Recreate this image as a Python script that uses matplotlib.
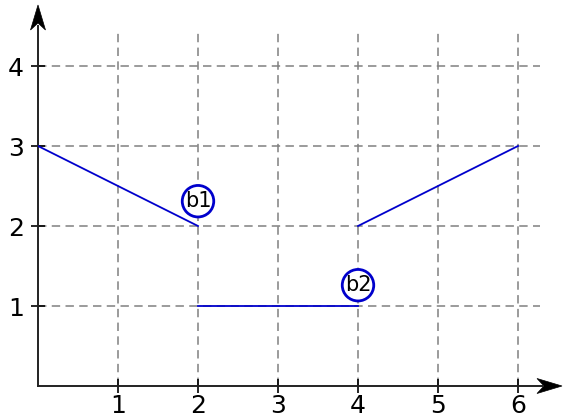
import matplotlib
matplotlib.use("Agg")
import matplotlib.pyplot as plt
from matplotlib.patches import Polygon
from matplotlib.transforms import IdentityTransform

# segments of the piecewise function
seg_x = [[0, 2], [2, 4], [4, 6]]
seg_y = [[3, 2], [1, 1], [2, 3]]

# circled labels
labels = ["b1", "b2"]
label_x = [2, 4]
label_y = [2.31, 1.26]

xticks = [1, 2, 3, 4, 5, 6]
yticks = [1, 2, 3, 4]

W, H = 563, 418
fig = plt.figure(figsize=(W / 100, H / 100), dpi=100)
ax = fig.add_axes([38 / W, 32 / H, 525 / W, 381 / H])
ax.set_xlim(0, 6.5625)
ax.set_ylim(0, 4.7625)
for s in ax.spines.values():
    s.set_visible(False)

# dashed grid
dash = (0, (5.5, 3.5))
ax.hlines(yticks, 0, 6.28, colors="gray", linestyles=dash, lw=1.1, zorder=1)
ax.vlines(xticks, 0, 4.41, colors="gray", linestyles=dash, lw=1.1, zorder=1)

# axis lines
ax.plot([0, 6.3], [0, 0], color="#222222", lw=1.4, zorder=2, clip_on=False)
ax.plot([0, 0], [0, 4.5], color="#222222", lw=1.4, zorder=2, clip_on=False)


def arrow_head(tip, direction):
    # stealth-style head in pixel units
    tx, ty = tip
    dx, dy = direction
    px, py = -dy, dx
    L, w, n = 25, 7.5, 7
    pts = [(tx, ty),
           (tx - L * dx + w * px, ty - L * dy + w * py),
           (tx - (L - n) * dx, ty - (L - n) * dy),
           (tx - L * dx - w * px, ty - L * dy - w * py)]
    fig.patches.append(Polygon(pts, closed=True, fc="black", ec="black",
                               lw=0.5, transform=IdentityTransform(),
                               figure=fig))


arrow_head((562, 32), (1, 0))
arrow_head((38, 413), (0, 1))

for xs, ys in zip(seg_x, seg_y):
    ax.plot(xs, ys, color="#0000cc", lw=1.3, zorder=3)

for t, x, y in zip(labels, label_x, label_y):
    ax.text(x, y, t, ha="center", va="center", fontsize=15, zorder=4,
            bbox=dict(boxstyle="circle,pad=0.12", fc="white", ec="#0000cc", lw=2))

ax.set_xticks(xticks)
ax.set_yticks(yticks)
ax.tick_params(direction="inout", length=10, width=1.2, colors="black",
               labelsize=18, pad=0.5)
ax.tick_params(axis="y", pad=5)

fig.savefig("out.png", dpi=100)
